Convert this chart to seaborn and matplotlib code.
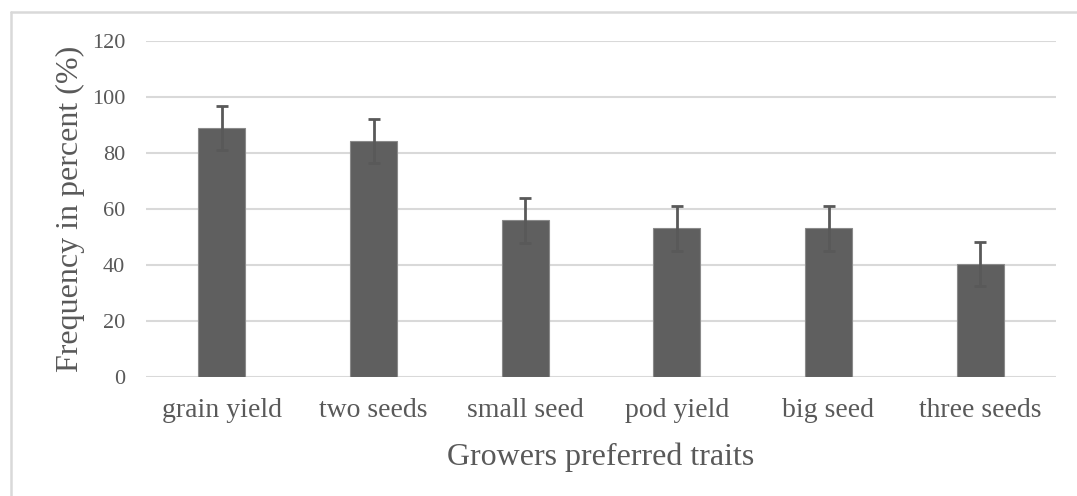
import matplotlib
matplotlib.use("Agg")
import matplotlib.pyplot as plt
from matplotlib.lines import Line2D
import seaborn as sns
import pandas as pd

categories = ["grain yield", "two seeds", "small seed", "pod yield", "big seed", "three seeds"]
values = [89.0, 84.4, 56.0, 53.1, 53.1, 40.4]
errors = [7.8, 7.8, 8.0, 8.1, 8.1, 7.9]
yticks = [0, 20, 40, 60, 80, 100, 120]

sns.set_theme(style="white")
plt.rcParams["font.family"] = ["Liberation Serif", "DejaVu Serif"]

df = pd.DataFrame({"trait": categories, "freq": values})

fig = plt.figure(figsize=(10.77, 4.96), dpi=100)
ax = fig.add_axes([146 / 1077, (496 - 377) / 496, (1056 - 146) / 1077, (377 - 41) / 496])

sns.barplot(data=df, x="trait", y="freq", ax=ax, color="#5f5f5f", saturation=1,
            width=0.31, errorbar=None, edgecolor="#8a8a8a", linewidth=0.8, zorder=3)
ax.errorbar(range(len(categories)), values, yerr=errors, fmt="none",
            ecolor="#595959", elinewidth=2, capsize=4.3, capthick=2, zorder=4)

ax.set_xlim(-0.5, len(categories) - 0.5)
ax.set_ylim(0, 120)
ax.set_yticks(yticks)
ax.set_yticklabels([str(t) for t in yticks])
ax.grid(axis="y", color="#d9d9d9", linewidth=1.5, zorder=0)
ax.grid(axis="x", visible=False)
for s in ax.spines.values():
    s.set_visible(False)
ax.tick_params(axis="both", length=0, colors="#595959")
ax.tick_params(axis="y", pad=15, labelsize=16)
ax.tick_params(axis="x", pad=15, labelsize=20)

ax.set_xlabel("Growers preferred traits", fontsize=23, color="#595959", labelpad=14)
ax.set_ylabel("Frequency in percent (%)", fontsize=23, color="#595959", labelpad=5)

# outer chart border (top and left visible)
fig.add_artist(Line2D([11 / 1077, 1.0], [1 - 12 / 496, 1 - 12 / 496],
                      transform=fig.transFigure, color="#d9d9d9", linewidth=1.8))
fig.add_artist(Line2D([11 / 1077, 11 / 1077], [0, 1 - 12 / 496],
                      transform=fig.transFigure, color="#d9d9d9", linewidth=1.8))

fig.savefig("out.png", dpi=100, facecolor="white")
